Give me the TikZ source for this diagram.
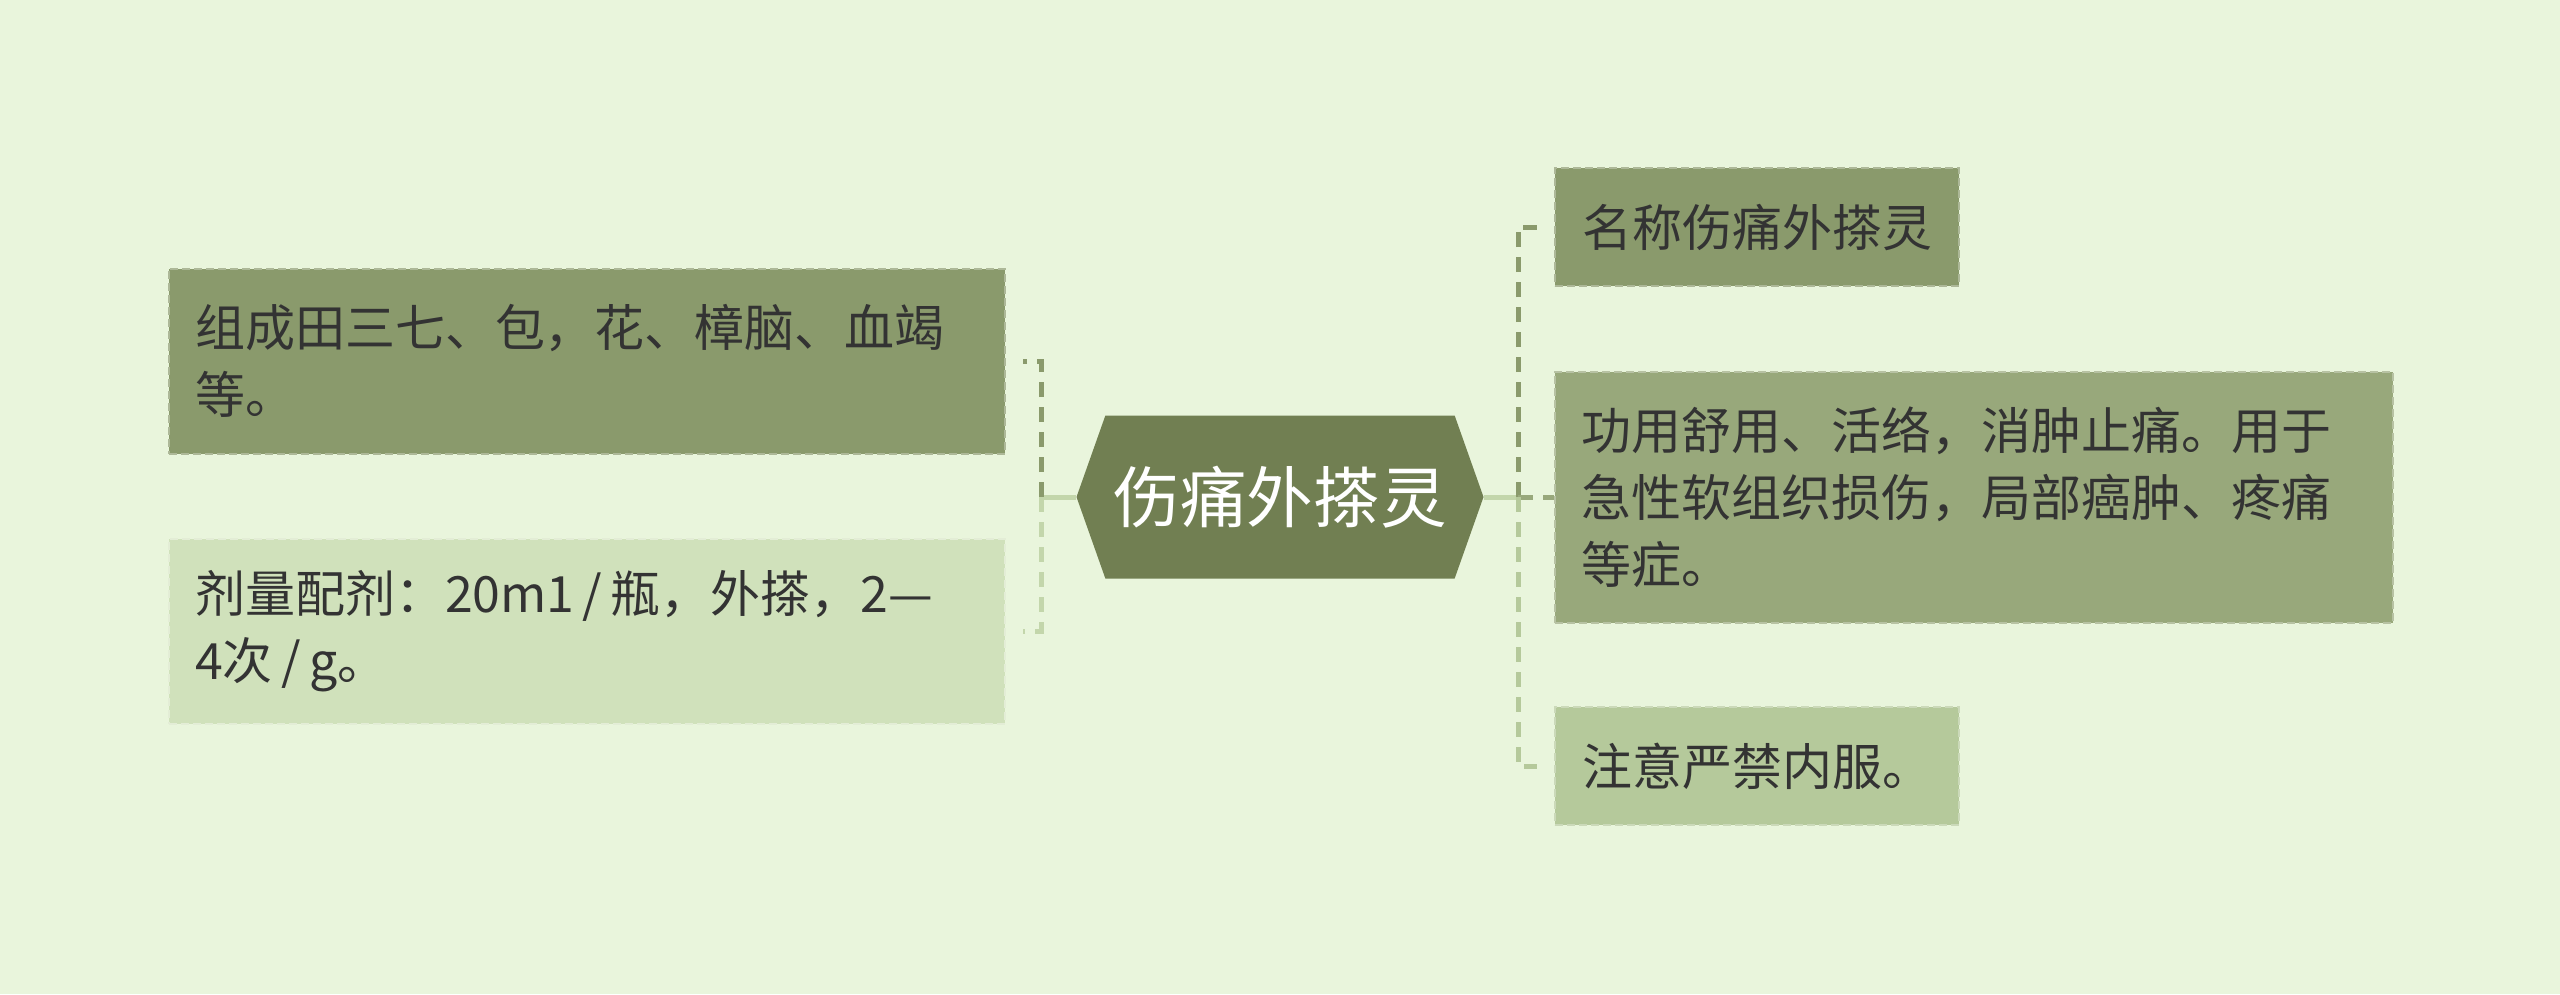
\documentclass[tikz,border=0pt]{standalone}
\usepackage{fontspec}
\setmainfont{Noto Sans CJK SC}
\usepackage{tikz}
\usetikzlibrary{shapes.symbols, positioning}

\begin{document}
\begin{tikzpicture}[x=0.3pt, y=-0.3pt,
  folha/.style={rectangle, draw, dash pattern=on 2.4pt off 1.2pt, line width=0.6pt, text=texto, align=left, anchor=west, inner xsep=7.8pt, inner ysep=0pt, font=\fontsize{15}{20.1}\selectfont},
  ramo/.style={line width=1.5pt, dash pattern=on 4.5pt off 3pt, shorten >=5pt}]
% --- CORES ---
\definecolor{fundo}{HTML}{E9F5DC}
\definecolor{raiz}{HTML}{717F52}
\definecolor{escuro}{HTML}{8A9A6C}
\definecolor{medio}{HTML}{98A87B}
\definecolor{claro}{HTML}{B5C99B}
\definecolor{palido}{HTML}{D0E1BB}
\definecolor{tronco}{HTML}{C3D6AB}
\definecolor{texto}{HTML}{333333}

% LAYER 0: fundo e margens
\fill[fundo] (0,0) rectangle (2560,994);
\useasboundingbox (0,0) rectangle (2560,994);

% LAYER 1: tema central
\node[shape=signal, signal to=west and east, signal pointer angle=141, fill=raiz, minimum width=122.1pt, minimum height=48.9pt, inner sep=0pt, text=white, font=\fontsize{20}{24}\selectfont] (raiz) at (1280,497) {伤痛外搽灵};

% LAYER 2: ramos da esquerda
\node[folha, fill=escuro, draw=escuro!70!white, text width=235.2pt, minimum height=55.5pt] (esq1) at (168,361) {组成田三七、包，花、樟脑、血竭\\等。};
\node[folha, fill=palido, draw=palido!60!white, text width=235.2pt, minimum height=55.5pt] (esq2) at (168,631) {剂量配剂：20m1\,/\,瓶，外搽，2—\\4次\,/\,g。};

% LAYER 3: ramos da direita
\node[folha, fill=escuro, draw=escuro!70!white, minimum width=121.2pt, minimum height=35.4pt] (dir1) at (1554,227) {名称伤痛外搽灵};
\node[folha, fill=medio, draw=medio!70!white, text width=235.8pt, minimum height=75.3pt] (dir2) at (1554,497) {功用舒用、活络，消肿止痛。用于\\急性软组织损伤，局部癌肿、疼痛\\等症。};
\node[folha, fill=claro, draw=claro!70!white, minimum width=121.2pt, minimum height=35.4pt] (dir3) at (1554,766) {注意严禁内服。};

% LAYER 4: ligacoes
\coordinate (juncW) at (1041,497);
\coordinate (juncE) at (1518,497);
\draw[line width=1.5pt, color=tronco] (raiz.west) -- (juncW);
\draw[line width=1.5pt, color=tronco] (raiz.east) -- (juncE);
\draw[ramo, color=escuro] (juncW) |- (esq1.east);
\draw[ramo, color=tronco] (juncW) |- (esq2.east);
\draw[ramo, color=escuro] (juncE) |- (dir1.west);
\draw[ramo, color=medio, shorten >=0pt] (juncE) -- (dir2.west);
\draw[ramo, color=claro] (juncE) |- (dir3.west);
\end{tikzpicture}
\end{document}
